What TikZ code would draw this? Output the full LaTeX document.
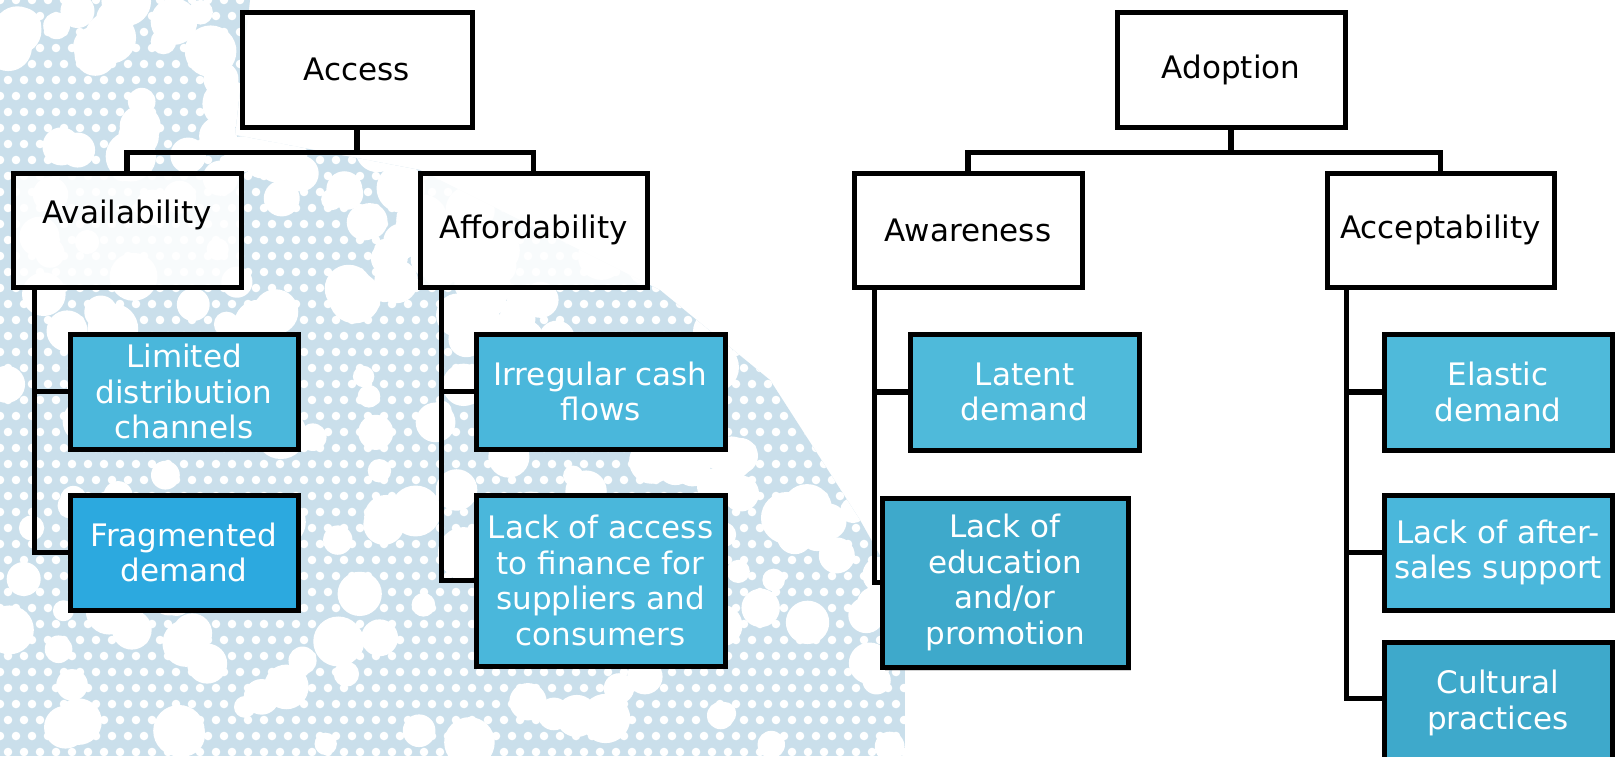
\documentclass[tikz,border=0pt]{standalone}
\usepackage{fontspec}
\setmainfont{DejaVu Sans}
\usetikzlibrary{shadows}

\definecolor{lace}{HTML}{CADFEB}
\definecolor{cyanA}{HTML}{4AB7DB}
\definecolor{cyanB}{HTML}{2CA9DF}
\definecolor{cyanC}{HTML}{3EA9CB}
\definecolor{cyanD}{HTML}{4FBADA}

\pgfdeclarelayer{deep}
\pgfdeclarelayer{links}
\pgfsetlayers{deep,links,main}

\tikzset{
  heading/.style={draw=black, line width=5pt, fill=white, fill opacity=0.88, text opacity=1,
    text=black, align=center, inner sep=2pt},
  issue/.style={draw=black, line width=5pt, fill=#1, text=white, align=center, inner sep=2pt},
  conn/.style={draw=black, line width=5.5pt, line join=miter},
}

\begin{document}
\begin{tikzpicture}[x=1pt, y=-1pt, font=\fontsize{31}{35.5}\selectfont]
\useasboundingbox (0,0) rectangle (1617,756);

% Access tree
\node[heading, minimum width=230pt, minimum height=115pt] (access) at (357,69.5) {Access};
\node[heading, minimum width=228pt, minimum height=114pt] (avail) at (127,230) {\raisebox{36pt}{Availability}};
\node[heading, minimum width=227pt, minimum height=114pt] (afford) at (533.5,230) {Affordability};
\node[issue=cyanA, minimum width=228pt, minimum height=115pt] (limited) at (184,391.5) {Limited\\distribution\\channels};
\node[issue=cyanB, minimum width=228pt, minimum height=115pt] (frag) at (184,552.5) {Fragmented\\demand};
\node[issue=cyanA, minimum width=249pt, minimum height=115pt] (irreg) at (600.5,391.5) {Irregular cash\\flows};
\node[issue=cyanA, minimum width=249pt, minimum height=171pt] (lackacc) at (600.5,580.5) {Lack of access\\to finance for\\suppliers and\\consumers};

% Adoption tree
\node[heading, minimum width=228pt, minimum height=115pt] (adopt) at (1231,69.5) {Adoption};
\node[heading, minimum width=228pt, minimum height=114pt] (aware) at (968,230) {Awareness};
\node[heading, minimum width=227pt, minimum height=114pt] (accept) at (1440.5,230) {Acceptability};
\node[issue=cyanD, minimum width=229pt, minimum height=116pt] (latent) at (1024.5,392) {Latent\\demand};
\node[issue=cyanC, minimum width=246pt, minimum height=169pt,
      drop shadow={shadow xshift=3pt, shadow yshift=-4pt, opacity=0.35}] (lackedu) at (1005,582.5) {Lack of\\education\\and/or\\promotion};
\node[issue=cyanD, minimum width=228pt, minimum height=116pt] (elastic) at (1498,392) {Elastic\\demand};
\node[issue=cyanA, minimum width=228pt, minimum height=115pt] (after) at (1498,552.5) {Lack of after-\\sales support};
\node[issue=cyanC, minimum width=228pt, minimum height=122pt] (cultural) at (1498,703) {Cultural\\practices};

% connectors, kept under the boxes
\begin{pgfonlayer}{links}
\draw[conn] (access.south) -- ++(0,23) coordinate (accj) -| (avail.north);
\draw[conn] (accj) -| (afford.north);
\draw[conn] (adopt.south) -- ++(0,23) coordinate (adj) -| (aware.north);
\draw[conn] (adj) -| (accept.north);

\draw[conn] ([xshift=24pt]avail.south west) |- (frag.west);
\draw[conn] (limited.west) -| ([xshift=24pt]avail.south west);
\draw[conn] ([xshift=24pt]afford.south west) |- (lackacc.west);
\draw[conn] (irreg.west) -| ([xshift=24pt]afford.south west);
\draw[conn] ([xshift=23pt]aware.south west) |- (lackedu.west);
\draw[conn] (latent.west) -| ([xshift=23pt]aware.south west);
\draw[conn] ([xshift=22pt]accept.south west) |- ([yshift=-59pt]cultural.north west);
\draw[conn] (elastic.west) -| ([xshift=22pt]accept.south west);
\draw[conn] (after.west) -| ([xshift=22pt]accept.south west);
\end{pgfonlayer}

% pale lace texture behind the left tree
\begin{pgfonlayer}{deep}
\fill[white] (0,0) rectangle (1617,756);
\begin{scope}
  \clip (0,0) -- (250,0) -- (235,135) -- (420,170) -- (660,290) -- (770,380)
        -- (860,520) -- (905,600) -- (905,756) -- (0,756) -- cycle;
  \fill[lace] (0,0) rectangle (905,756);
  \foreach \i in {0,...,57} {
    \foreach \j in {0,...,48} {
      \fill[white] ({\i*16+mod(\j,2)*8},{\j*16}) circle[radius=4.3pt];
    }
  }
  \pgfmathsetseed{42}
  \foreach \k in {1,...,230} {
    \pgfmathsetmacro{\px}{rnd*905}
    \pgfmathsetmacro{\py}{rnd*756}
    \pgfmathsetmacro{\pr}{10+rnd*16}
    \fill[white] (\px,\py) circle[radius=\pr pt];
  }
  % softer fringe along the upper right edge of the lace
  \foreach \k in {1,...,60} {
    \pgfmathsetmacro{\tt}{rnd}
    \pgfmathsetmacro{\px}{250+\tt*655+(rnd-0.5)*60}
    \pgfmathsetmacro{\py}{135+\tt*465+(rnd-0.5)*60}
    \fill[white] (\px,\py) circle[radius=18pt];
  }
\end{scope}
\end{pgfonlayer}
\end{tikzpicture}
\end{document}
